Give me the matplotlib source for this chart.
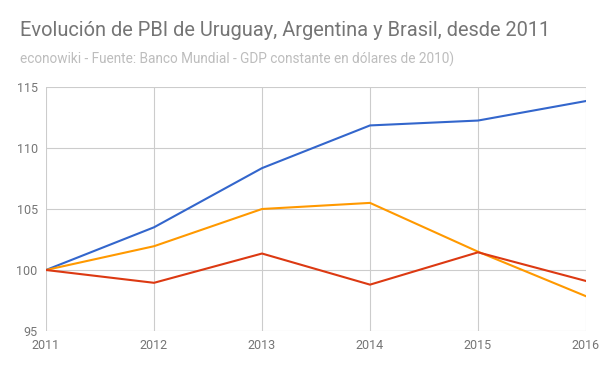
import matplotlib
matplotlib.use("Agg")
import matplotlib.pyplot as plt

# PBI indexado (2011 = 100)
years = [2011, 2012, 2013, 2014, 2015, 2016]
uruguay = [100, 103.5, 108.35, 111.85, 112.25, 113.85]
argentina = [100, 101.95, 105.0, 105.5, 101.5, 97.85]
brasil = [100, 98.95, 101.35, 98.8, 101.45, 99.1]
y_ticks = [95, 100, 105, 110, 115]

plt.rcParams['font.family'] = ['Roboto', 'DejaVu Sans']

fig = plt.figure(figsize=(6, 3.71), dpi=100)
ax = fig.add_axes([46 / 600, 40 / 371, 540 / 600, 244 / 371])

ax.plot(years, uruguay, color='#3366cc', lw=1.5, solid_joinstyle='round')
ax.plot(years, argentina, color='#ff9900', lw=1.5, solid_joinstyle='round')
ax.plot(years, brasil, color='#dc3912', lw=1.5, solid_joinstyle='round')

ax.set_xlim(years[0], years[-1])
ax.set_ylim(95, 115)
ax.set_xticks(years)
ax.set_yticks(y_ticks)
ax.grid(True, color='#cccccc', lw=0.8)
ax.set_axisbelow(True)
for s in ax.spines.values():
    s.set_visible(False)
ax.tick_params(length=0, labelsize=9, labelcolor='#757575', pad=6)

fig.text(20 / 600, 1 - 31 / 371, "Evolución de PBI de Uruguay, Argentina y Brasil, desde 2011",
         fontsize=14.4, color='#757575', va='center')
fig.text(20 / 600, 1 - 59 / 371, "econowiki - Fuente: Banco Mundial - GDP constante en dólares de 2010)",
         fontsize=9.8, color='#bdbdbd', va='center')

fig.savefig("out.png", dpi=100)
